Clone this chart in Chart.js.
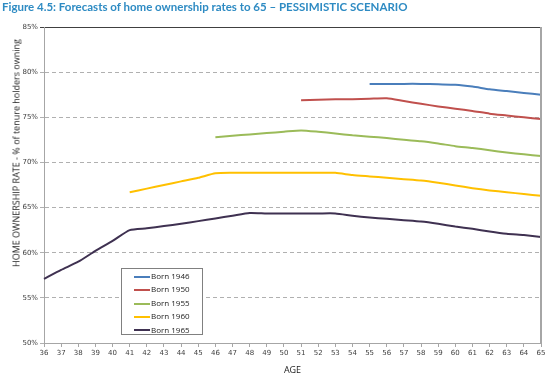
<!DOCTYPE html>
<html>
<head>
<meta charset="utf-8">
<script src="https://cdn.jsdelivr.net/npm/chart.js@4.4.0/dist/chart.umd.min.js"></script>
<style>
    body { margin: 0; background: #fff; }
    #wrap { position: relative; width: 550px; height: 376px; }
    #chart { position: absolute; left: 0; top: 0; }
    #title { position: absolute; left: 2px; top: 0px; font: bold 11.5px Lato, sans-serif; color: #2e8bc3; white-space: nowrap; }
    #ytitle { position: absolute; left: 16px; top: 153px; width: 260px; margin-left: -130px; text-align: center;
              transform: translateY(-50%) rotate(-90deg); font: 9px "Open Sans", sans-serif; color: #222; white-space: nowrap; }
    #legend { position: absolute; left: 121px; top: 268px; width: 80px; height: 65px; border: 1px solid #808080; background: #fff; }
    .item { position: absolute; left: 12px; height: 12px; font: 8px "Open Sans", sans-serif; color: #222; line-height: 12px; }
    .item span { display: inline-block; width: 16px; height: 2px; vertical-align: middle; margin-right: 1px; }
</style>
</head>
<body>
<div id="wrap">
    <canvas id="chart" width="550" height="376"></canvas>
    <div id="title">Figure 4.5: Forecasts of home ownership rates to 65 – PESSIMISTIC SCENARIO</div>
    <div id="ytitle">HOME OWNERSHIP RATE - % of tenure holders owning</div>
    <div id="legend"></div>
</div>
<script>
// Ages on the x axis
const ages = [36, 37, 38, 39, 40, 41, 42, 43, 44, 45, 46, 47, 48, 49, 50,
              51, 52, 53, 54, 55, 56, 57, 58, 59, 60, 61, 62, 63, 64, 65];

// Ownership rate (%) per cohort, null where the cohort has no forecast
const born1946 = [null, null, null, null, null, null, null, null, null, null, null, null, null, null, null,
                  null, null, null, null, 78.7, 78.7, 78.7, 78.7, 78.65, 78.6, 78.4, 78.1, 77.9, 77.7, 77.5];
const born1950 = [null, null, null, null, null, null, null, null, null, null, null, null, null, null, null,
                  76.9, 76.95, 77.0, 77.0, 77.05, 77.1, 76.8, 76.5, 76.2, 75.95, 75.7, 75.4, 75.2, 75.0, 74.8];
const born1955 = [null, null, null, null, null, null, null, null, null, null, 72.8, 72.95, 73.1, 73.25, 73.4,
                  73.55, 73.4, 73.2, 73.0, 72.85, 72.7, 72.5, 72.35, 72.1, 71.8, 71.6, 71.35, 71.1, 70.9, 70.7];
const born1960 = [null, null, null, null, null, 66.7, 67.1, 67.5, 67.9, 68.3, 68.8, 68.85, 68.85, 68.85, 68.85,
                  68.85, 68.85, 68.85, 68.6, 68.45, 68.3, 68.15, 68.0, 67.75, 67.45, 67.15, 66.9, 66.7, 66.5, 66.3];
const born1965 = [57.1, 58.1, 59.0, 60.2, 61.3, 62.5, 62.7, 62.95, 63.2, 63.5, 63.8, 64.1, 64.4, 64.35, 64.35,
                  64.35, 64.35, 64.35, 64.1, 63.9, 63.75, 63.6, 63.45, 63.2, 62.9, 62.65, 62.35, 62.1, 61.95, 61.75];

const seriesNames = ['Born 1946', 'Born 1950', 'Born 1955', 'Born 1960', 'Born 1965'];
const seriesColors = ['#4a7ebb', '#c0504d', '#9bbb59', '#ffc000', '#3f3151'];
const seriesData = [born1946, born1950, born1955, born1960, born1965];

const yMin = 50, yMax = 85, yStep = 5;

// Legend box (inside the plot, like the original)
const legendEl = document.getElementById('legend');
seriesNames.forEach((name, i) => {
    const div = document.createElement('div');
    div.className = 'item';
    div.style.top = (1 + i * 13.4) + 'px';
    div.innerHTML = `<span style="background:${seriesColors[i]}"></span>${name}`;
    legendEl.appendChild(div);
});

// Right-hand frame line of the plot area
const frameRight = {
    id: 'frameRight',
    afterDraw(chart) {
        const { ctx, chartArea } = chart;
        ctx.save();
        ctx.strokeStyle = '#a6a6a6';
        ctx.lineWidth = 2;
        ctx.beginPath();
        ctx.moveTo(chartArea.right, chartArea.top);
        ctx.lineTo(chartArea.right, chartArea.bottom);
        ctx.stroke();
        ctx.restore();
    }
};

new Chart(document.getElementById('chart'), {
    type: 'line',
    data: {
        labels: ages,
        datasets: seriesData.map((d, i) => ({
            label: seriesNames[i],
            data: d,
            borderColor: seriesColors[i],
            backgroundColor: seriesColors[i],
            borderWidth: 2,
            pointRadius: 0,
            tension: 0.2,
            fill: false
        }))
    },
    options: {
        responsive: false,
        animation: false,
        layout: { padding: { left: 0, right: 9, top: 27, bottom: 0 } },
        plugins: {
            legend: { display: false },
            tooltip: { enabled: false }
        },
        scales: {
            x: {
                afterFit(scale) { scale.height = 33; },
                grid: { drawOnChartArea: false, drawTicks: true, tickLength: 4, color: '#a6a6a6' },
                border: { color: '#a6a6a6', width: 1 },
                ticks: { font: { size: 7, family: 'DejaVu Sans' }, color: '#404040', padding: 2, maxRotation: 0, autoSkip: false },
                title: { display: true, text: 'AGE', font: { size: 9, family: 'Open Sans' }, color: '#222', padding: { top: 4, bottom: 0 } }
            },
            y: {
                min: yMin,
                max: yMax,
                afterFit(scale) { scale.width = 44; },
                grid: {
                    color: ctx => ctx.tick.value === yMax ? '#404040' : '#b0b0b0',
                    lineWidth: 1,
                    drawTicks: true,
                    tickLength: 4
                },
                border: { color: '#a6a6a6', width: 1, dash: ctx => ctx.tick && ctx.tick.value === yMax ? [] : [4, 3] },
                ticks: {
                    stepSize: yStep,
                    font: { size: 7, family: 'DejaVu Sans' },
                    color: '#404040',
                    padding: 2,
                    callback: v => v + '%'
                }
            }
        }
    },
    plugins: [frameRight]
});
</script>
</body>
</html>
